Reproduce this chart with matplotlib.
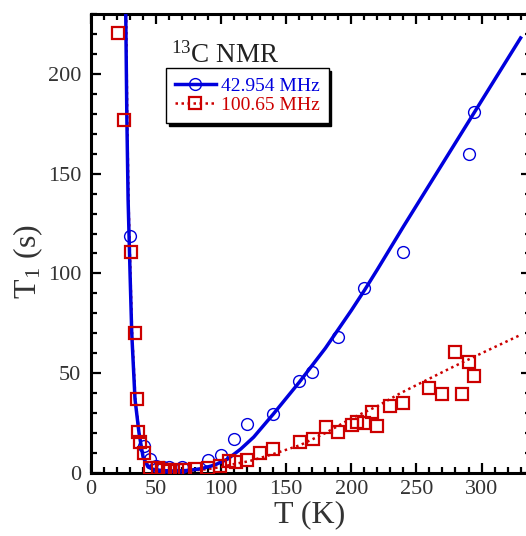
import matplotlib
matplotlib.use("Agg")
import matplotlib.pyplot as plt
from matplotlib.lines import Line2D
from matplotlib.ticker import MultipleLocator

# ---- data ----
blue_T = [30, 40.5, 45.5, 50, 55, 60, 70, 90, 100, 110, 120, 140, 160, 170, 190, 210, 240, 290, 294]
blue_T1 = [118.8, 13.5, 7, 3.5, 3.2, 3.2, 3.0, 6.5, 9, 17, 24.5, 29.5, 46, 50.5, 68, 92.5, 110.5, 160, 181]

red_T = [20.8, 25.4, 30.8, 33.8, 35.4, 36, 38, 40.5, 45, 51.5, 55, 59, 61, 66, 72, 80, 90, 99,
         106, 111.5, 120, 130, 140, 160.5, 170.5, 180.8, 190, 200.6, 204.7, 210, 215.5, 220,
         230, 240, 260, 270, 280, 285, 290, 294]
red_T1 = [220.5, 177, 110.8, 70.2, 37.1, 20.5, 15.5, 10, 2.5, 2.5, 1.5, 1.5, 1.2, 1.5, 1.5, 2, 2.7, 3.5,
          6, 5.5, 6.5, 9.8, 11.8, 15.3, 17, 23.2, 20.6, 24, 25.5, 25.2, 30.7, 23.8,
          33.6, 35, 42.6, 39.6, 60.6, 39.6, 55.6, 48.6]

# fit curves
fitB_T = [26.7, 27.5, 28.5, 30, 31.3, 33.8, 36.9, 40, 43.8, 48, 55, 65, 75, 85, 95, 105, 115,
          125, 140, 160, 180, 200, 210, 220, 240, 260, 280, 300, 320, 330]
fitB_T1 = [230, 180, 137, 100, 70, 37, 20, 8, 3, 1.8, 1.2, 1.0, 1.3, 2.2, 4, 7, 12,
           18, 29.5, 45.5, 62.5, 81.5, 91.5, 102, 123.5, 144.5, 165.5, 186.5, 207.5, 218]
fitR_T = [27.0, 27.8, 28.8, 30.3, 31.6, 34.1, 37.2, 40.5, 44.5, 50, 60, 70, 80, 90, 100, 110,
          122, 140, 160.8, 180, 199, 220, 237.7, 256, 276, 300, 330]
fitR_T1 = [230, 180, 137, 100, 70, 37, 19, 8, 3, 1.5, 1.0, 1.0, 1.3, 2, 3, 4.5,
           6, 9.5, 14, 20, 27, 33.5, 40, 46, 52.5, 60, 69.2]

labels = ["42.954 MHz", "100.65 MHz"]
xticks = [0, 50, 100, 150, 200, 250, 300]
yticks = [0, 50, 100, 150, 200]

BLUE = "#0000dd"
RED = "#cc0000"

plt.rcParams["font.family"] = ["Liberation Serif", "DejaVu Serif"]
plt.rcParams["mathtext.fontset"] = "stix"

fig = plt.figure(figsize=(5.26, 5.36), dpi=100)
ax = fig.add_axes([91 / 526, 63 / 536, 440 / 526, 459 / 536])

ax.plot(fitB_T, fitB_T1, color=BLUE, lw=2.5, zorder=3)
ax.plot(fitR_T, fitR_T1, color=RED, lw=1.8, ls=(0, (1, 1.4)), zorder=2)
ax.plot(blue_T, blue_T1, ls="none", marker="o", ms=8.5, mfc="none", mec=BLUE, mew=1.0, zorder=4)
ax.plot(red_T, red_T1, ls="none", marker="s", ms=8.0, mfc="none", mec=RED, mew=1.6, zorder=5)

ax.set_xlim(0, 338)
ax.set_ylim(0, 230)
ax.set_xticks(xticks)
ax.set_yticks(yticks)
ax.xaxis.set_minor_locator(MultipleLocator(10))
ax.yaxis.set_minor_locator(MultipleLocator(10))
ax.tick_params(which="both", direction="in", top=True, right=True, width=1.6, labelsize=16, colors="black")
ax.tick_params(which="major", length=7, pad=5)
ax.tick_params(axis="y", which="major", pad=7)
ax.tick_params(which="minor", length=4)
for lab in ax.get_xticklabels() + ax.get_yticklabels():
    lab.set_color("#333333")
for s in ax.spines.values():
    s.set_linewidth(2.2)

ax.set_xlabel("T (K)", fontsize=23, color="#333333")
ax.set_ylabel(r"T$_\mathregular{1}$ (s)", fontsize=23, color="#333333")
ax.xaxis.set_label_coords(0.497, -0.06)
ax.yaxis.set_label_coords(-0.105, 0.46)

ax.text(0.182, 0.895, r"$\mathregular{^{13}}$C NMR", transform=ax.transAxes, fontsize=19.5,
        color="#222222", va="baseline", ha="left")

handles = [
    Line2D([], [], color=BLUE, lw=2.5, marker="o", ms=8.5, mfc="none", mec=BLUE, mew=1.0),
    Line2D([], [], color=RED, lw=1.8, ls=(0, (1, 1.4)), marker="s", ms=8.0, mfc="none", mec=RED, mew=1.6),
]
leg = ax.legend(handles, labels, loc="upper left", bbox_to_anchor=(0.170, 0.882), borderaxespad=0,
                fontsize=14, handlelength=2.15, handletextpad=0.25, borderpad=0.45, labelspacing=0.1,
                frameon=True, fancybox=False, shadow={"color": "black", "alpha": 1.0},
                labelcolor=[BLUE, RED])
leg.get_frame().set_edgecolor("black")
leg.get_frame().set_linewidth(1.0)
leg.get_frame().set_alpha(1.0)

fig.savefig("out.png", dpi=100)
